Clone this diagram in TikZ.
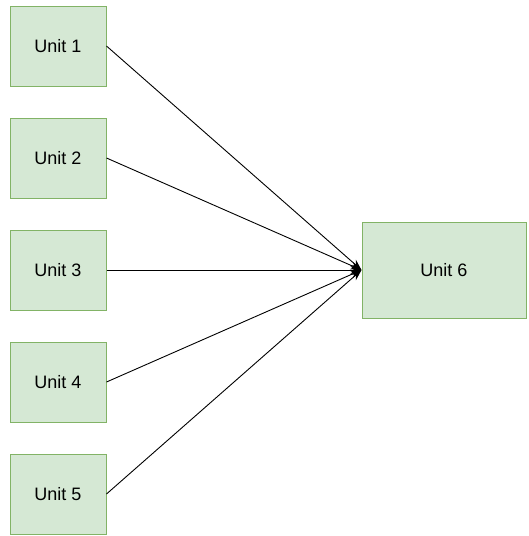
\documentclass[tikz,border=0pt]{standalone}
\usepackage{fontspec}
\setmainfont{Liberation Sans}
\usepackage{tikz}
\usetikzlibrary{arrows.meta,positioning}
\definecolor{unitfill}{RGB}{213,232,212}
\definecolor{unitline}{RGB}{130,179,102}

\begin{document}
\begin{tikzpicture}[x=1pt,y=-1pt,
    unitbox/.style={draw=unitline,fill=unitfill,line width=1pt,minimum width=96pt,minimum height=80pt,font=\fontsize{18}{21}\selectfont},
    link/.style={-{Stealth[length=11pt,width=8pt]},line width=0.9pt}]
    \useasboundingbox (0,0) rectangle (529,536);

    % Unités d'entrée
    \node[unitbox] (u1) at (58,46) {Unit 1};
    \node[unitbox] (u2) at (58,158) {Unit 2};
    \node[unitbox] (u3) at (58,270) {Unit 3};
    \node[unitbox] (u4) at (58,382) {Unit 4};
    \node[unitbox] (u5) at (58,494) {Unit 5};

    % Unité de sortie
    \node[unitbox,minimum width=164pt,minimum height=96pt] (u6) at (444,270) {Unit 6};

    % Flèches
    \draw[link] (u1.east) -- (u6.west);
    \draw[link] (u2.east) -- (u6.west);
    \draw[link] (u3.east) -- (u6.west);
    \draw[link] (u4.east) -- (u6.west);
    \draw[link] (u5.east) -- (u6.west);

\end{tikzpicture}
\end{document}
